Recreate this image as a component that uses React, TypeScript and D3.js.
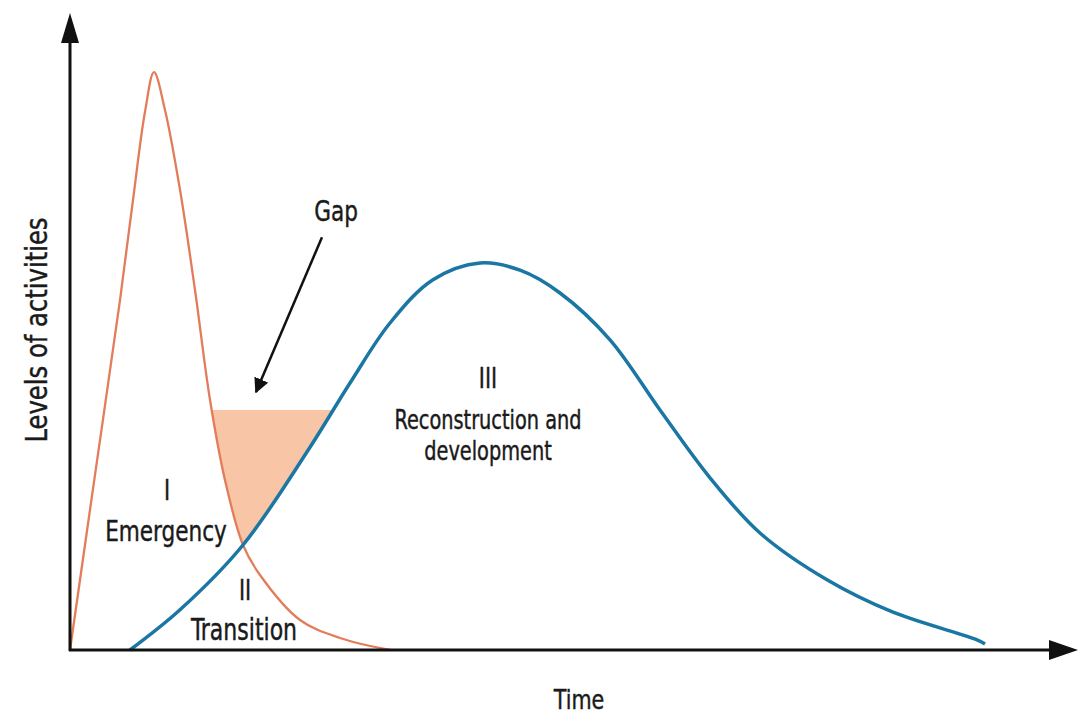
import React from 'react';
import * as d3 from 'd3';

// time (0..100) and level of activities (0..100)
const emergencyTime = [0, 2.5, 5, 6.3, 7.5, 8.4, 9.5, 11, 12.5, 14, 15.5, 17.3, 19, 23, 27, 32];
const emergencyLevel = [0, 29.2, 58.3, 75, 89.7, 96.3, 90, 76.7, 60, 41.7, 28.3, 17.5, 12.5, 5, 2, 0];

const developmentTime = [6, 11, 17.3, 24, 28, 32, 36.3, 41, 45, 49, 54, 59, 64, 69, 75.7, 82.3, 90.7, 91.5];
const developmentLevel = [0, 6.7, 17.5, 33.8, 44.5, 54.5, 61.7, 64.5, 63.3, 59.5, 51.7, 40, 28.7, 19.5, 11.7, 6.3, 1.7, 1];

// gap band: level and time window it is clipped from
const gapLevel = 40;
const gapWindow = [12, 32];

const labelText = ['Gap', 'I', 'Emergency', 'II', 'Transition', 'III', 'Reconstruction and', 'development'];

// where each label sits, in data coordinates, and its size
const labelLayout = [
  { t: 26.6, v: 71.5, size: 24 },
  { t: 9.7, v: 25, size: 23 },
  { t: 9.6, v: 18.2, size: 24 },
  { t: 17.5, v: 8.3, size: 23 },
  { t: 17.4, v: 1.7, size: 24.5 },
  { t: 41.8, v: 43.7, size: 23 },
  { t: 41.8, v: 36.9, size: 21.5 },
  { t: 41.8, v: 31.7, size: 21.5 },
];

const W = 1079;
const H = 718;
const font = '"Liberation Sans Narrow", "DejaVu Sans Condensed", sans-serif';
const ink = '#1a1a1a';

type P = { t: number; v: number };

const App = () => {
  const x = d3.scaleLinear().domain([0, 100]).range([70, 1070]);
  const y = d3.scaleLinear().domain([0, 100]).range([650, 50]);

  const emergency: P[] = emergencyTime.map((t, i) => ({ t, v: emergencyLevel[i] }));
  const development: P[] = developmentTime.map((t, i) => ({ t, v: developmentLevel[i] }));

  const curve = d3.curveCatmullRom.alpha(0.5);
  const line = d3.line<P>().x(d => x(d.t)).y(d => y(d.v)).curve(curve);
  const above = d3.area<P>()
    .x(d => x(d.t))
    .y0(y(100))
    .y1(d => y(d.v))
    .curve(curve);

  const x0 = x(0);
  const y0 = y(0);

  const arrowFrom = { t: 25.2, v: 68.8 };
  const arrowTo = { t: 18.6, v: 43 };

  return (
    <svg width={W} height={H} style={{ position: 'absolute', left: 0, top: 0, background: '#fff' }}>
      <defs>
        <clipPath id="aboveEmergency">
          <path d={above(emergency) || ''} />
        </clipPath>
        <clipPath id="aboveDevelopment">
          <path d={above(development) || ''} />
        </clipPath>
        <marker id="gapHead" viewBox="0 0 10 10" refX="9" refY="5" markerWidth="6" markerHeight="6" orient="auto">
          <path d="M0,0 L10,5 L0,10 z" fill="#111" />
        </marker>
      </defs>

      {/* gap fill */}
      <g clipPath="url(#aboveEmergency)">
        <rect
          clipPath="url(#aboveDevelopment)"
          x={x(gapWindow[0])}
          y={y(gapLevel)}
          width={x(gapWindow[1]) - x(gapWindow[0])}
          height={y(0) - y(gapLevel)}
          fill="#f8c5a6"
        />
      </g>

      <path d={line(emergency) || ''} fill="none" stroke="#e27c5a" strokeWidth={2.3} />
      <path d={line(development) || ''} fill="none" stroke="#1a76a3" strokeWidth={3.5} />

      {/* axes */}
      <line x1={x0} y1={y0 + 1} x2={x0} y2={38} stroke="#111" strokeWidth={3} />
      <path d={`M${x0 - 9},${43} L${x0},${13} L${x0 + 9},${43} Z`} fill="#111" />
      <line x1={x0 - 1} y1={y0} x2={1052} y2={y0} stroke="#111" strokeWidth={3} />
      <path d={`M${1049},${y0 - 10} L${1078},${y0} L${1049},${y0 + 10} Z`} fill="#111" />

      {/* gap arrow */}
      <line
        x1={x(arrowFrom.t)}
        y1={y(arrowFrom.v)}
        x2={x(arrowTo.t)}
        y2={y(arrowTo.v)}
        stroke="#111"
        strokeWidth={2.5}
        markerEnd="url(#gapHead)"
      />

      {labelText.map((text, i) => {
        const l = labelLayout[i];
        return (
          <text
            key={text}
            transform={`translate(${x(l.t)},${y(l.v)}) scale(1,1.2)`}
            textAnchor="middle"
            fontFamily={font}
            fontSize={l.size}
            fill={ink}
            stroke={ink}
            strokeWidth={0.35}
          >
            {text}
          </text>
        );
      })}

      <text
        transform={`translate(579,709) scale(1,1.15)`}
        textAnchor="middle"
        fontFamily={font}
        fontSize={23}
        fill={ink}
        stroke={ink}
        strokeWidth={0.35}
      >
        Time
      </text>
      <text
        transform={`translate(47,330) rotate(-90) scale(1,1.1)`}
        textAnchor="middle"
        fontFamily={font}
        fontSize={27}
        fill={ink}
        stroke={ink}
        strokeWidth={0.35}
      >
        Levels of activities
      </text>
    </svg>
  );
};

export default App;
